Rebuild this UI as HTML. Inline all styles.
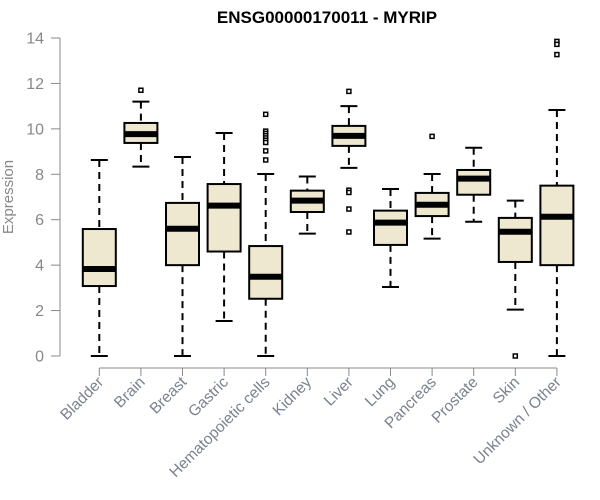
<!DOCTYPE html>
<html><head><meta charset="utf-8"><style>
body{margin:0;background:#fff;}
svg{display:block;font-family:"Liberation Sans",Arial,sans-serif;}
</style></head><body>
<svg id="chart" width="600" height="500">
<text x="327" y="23" text-anchor="middle" font-weight="bold" font-size="17">ENSG00000170011 - MYRIP</text>
<text transform="translate(13,197) rotate(-90)" text-anchor="middle" font-size="15" fill="#888">Expression</text>
</svg>
<script>
const categories=["Bladder","Brain","Breast","Gastric","Hematopoietic cells","Kidney","Liver","Lung","Pancreas","Prostate","Skin","Unknown / Other"];
const whiskerLow=[0,8.34,0,1.54,0,5.39,8.28,3.04,5.17,5.91,2.04,0];
const q1=[3.08,9.38,4.0,4.6,2.52,6.34,9.25,4.89,6.16,7.1,4.14,4.0];
const medians=[3.83,9.77,5.6,6.62,3.49,6.84,9.69,5.87,6.66,7.81,5.47,6.13];
const q3=[5.59,10.26,6.74,7.57,4.84,7.28,10.13,6.4,7.18,8.19,6.08,7.5];
const whiskerHigh=[8.63,11.2,8.76,9.82,8.01,7.9,11.0,7.35,8.01,9.17,6.84,10.83];
const outliers=[[],[11.7],[],[],[10.64,9.9,9.8,9.7,9.6,9.5,9.4,9.03,8.63],[],[11.65,7.3,7.2,6.47,5.46],[],[9.67],[],[0],[13.85,13.72,13.27]];
const yTicks=[0,2,4,6,8,10,12,14];

const svg=document.getElementById('chart');
const NS='http://www.w3.org/2000/svg';
const y=v=>356-v*(318/14);
const x=i=>99.3+i*41.6;
function mk(tag,attrs,parent){const e=document.createElementNS(NS,tag);for(const k in attrs)e.setAttribute(k,attrs[k]);(parent||svg).appendChild(e);return e;}

const ya=mk('g',{});


mk('line',{x1:60,x2:60,y1:y(14),y2:y(0),stroke:'#888','stroke-width':1},ya);
yTicks.forEach(t=>{
  mk('line',{x1:51,x2:60,y1:y(t),y2:y(t),stroke:'#888'},ya);
  const tx=mk('text',{x:44,y:y(t)+5.5,'text-anchor':'end','font-size':16,fill:'#888'},ya);
  
  
  tx.textContent=t;
});
const xa=mk('g',{});


mk('line',{x1:x(0),x2:x(categories.length-1),y1:368,y2:368,stroke:'#888'},xa);
categories.forEach((c,i)=>{
  mk('line',{x1:x(i),x2:x(i),y1:368,y2:376,stroke:'#888'},xa);
  const tx=mk('text',{transform:`translate(${x(i)+5},${383}) rotate(-45)`,'text-anchor':'end','font-size':15.5,fill:'#7a8290'},xa);
  
  
  tx.textContent=c;
});
categories.forEach((c,i)=>{
  const g=mk('g',{});
  
  
  const cx=x(i);
  mk('line',{x1:cx,x2:cx,y1:y(whiskerHigh[i]),y2:y(q3[i]),stroke:'#000','stroke-width':2,'stroke-dasharray':'7,5'},g);
  mk('line',{x1:cx,x2:cx,y1:y(q1[i]),y2:y(whiskerLow[i]),stroke:'#000','stroke-width':2,'stroke-dasharray':'7,5'},g);
  mk('line',{x1:cx-8.5,x2:cx+8.5,y1:y(whiskerHigh[i]),y2:y(whiskerHigh[i]),stroke:'#000','stroke-width':2},g);
  mk('line',{x1:cx-8.5,x2:cx+8.5,y1:y(whiskerLow[i]),y2:y(whiskerLow[i]),stroke:'#000','stroke-width':2},g);
  mk('rect',{x:cx-16.5,y:y(q3[i]),width:33,height:y(q1[i])-y(q3[i]),fill:'#ede8cf',stroke:'#000','stroke-width':2},g);
  mk('line',{x1:cx-16.5,x2:cx+16.5,y1:y(medians[i]),y2:y(medians[i]),stroke:'#000','stroke-width':6},g);
  outliers[i].forEach(o=>{
    const p=mk('rect',{x:cx-2,y:y(o)-2,width:4,height:4,fill:'#fff',stroke:'#000','stroke-width':1.5},g);
    
    
  });
});
</script>
</body></html>
